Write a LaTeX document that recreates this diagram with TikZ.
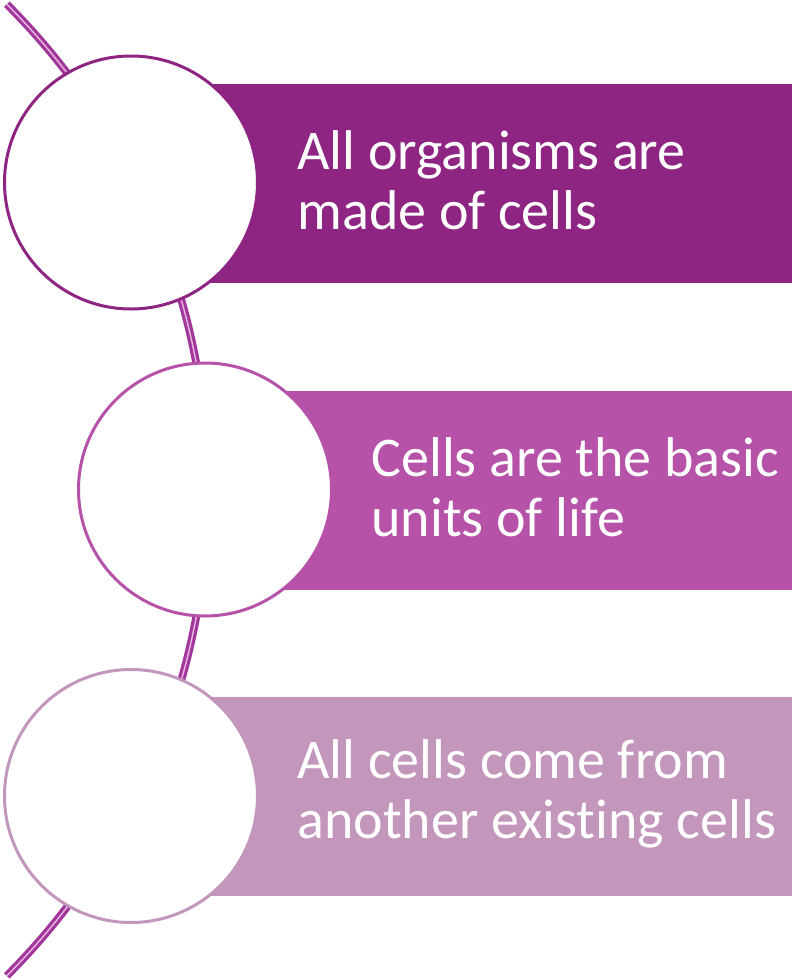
\documentclass[tikz,border=0pt]{standalone}
\usepackage{fontspec}
\setmainfont{Carlito}[Ligatures=NoCommon]
\usetikzlibrary{positioning}
\definecolor{pone}{HTML}{8F2582}
\definecolor{ptwo}{HTML}{B652A7}
\definecolor{pthree}{HTML}{C397BB}
\definecolor{pspine}{HTML}{A2379B}
\definecolor{pspinein}{HTML}{E9B8E3}
\tikzset{
  every picture/.style={line width=3pt},
  band/.style={fill=#1, draw=none, anchor=west, minimum width=661pt, minimum height=199pt, inner sep=0pt},
  cell/.style={circle, draw=#1, fill=white, minimum size=253pt, inner sep=0pt},
  caption/.style={text=white, align=left, anchor=west, inner sep=0pt,
                  font=\fontsize{56}{60}\selectfont},
  spine/.style={draw=pspine, line width=3.2pt, double=pspinein, double distance=1.4pt},
}
\begin{document}
\begin{tikzpicture}[x=1pt, y=-1pt]
  \useasboundingbox (0,0) rectangle (792,980);
  % bands behind the circles
  \foreach \i/\cx/\cy/\col/\txt in {
      1/131/183.5/pone/{All organisms are\\made of cells},
      2/205/490/ptwo/{Cells are the basic\\units of life},
      3/131/796.5/pthree/{All cells come from\\another existing cells}} {
    \node[band=\col] (band\i) at (\cx, \cy) {};
    \node[caption] (txt\i) at ([xshift=165pt, yshift=3pt]band\i.west) {\txt};
  }
  % the spine through the circles
  \draw[spine] (-479,490) ++(-45:687) arc[start angle=-45, end angle=45, radius=687];
  \foreach \i/\cx/\cy/\col in {1/131/182.5/pone, 2/205/489.5/ptwo, 3/131/796/pthree}
    \node[cell=\col] (cell\i) at (\cx, \cy) {};
\end{tikzpicture}
\end{document}
